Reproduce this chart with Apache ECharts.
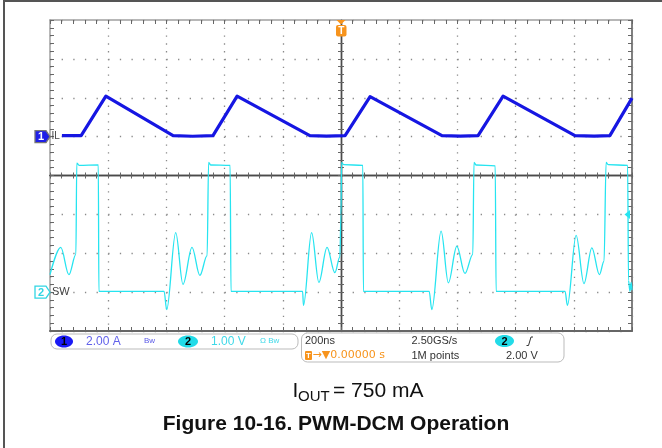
<!DOCTYPE html>
<html><head><meta charset="utf-8">
<script src="https://cdn.jsdelivr.net/npm/echarts@6/dist/echarts.min.js"></script>
<style>html,body{margin:0;padding:0;background:#fff}#c{width:662px;height:448px}</style>
</head><body><div id="c"></div>
<script>
// Time axis: 200 ns/div, 10 divisions, trigger at 0
const timeMin = -1000, timeMax = 1000, timeStep = 200;
// Channel 1 (IL): 2.00 A/div, 0 A one division above centre
const ilMin = -10, ilMax = 6, ilStep = 2;
// Channel 2 (SW): 1.00 V/div, 0 V three divisions below centre
const swMin = -1, swMax = 7, swStep = 1;
const trigLevel = 2.0;

// Inductor current (ns, A)
const ilTime = [-959, -893, -808, -577, -510, -440, -357, -107, -50, 14, 100, 347, 410, 471, 557, 804, 870, 924, 1000];
const ilAmps = [0.05, 0.05, 2.08, 0.05, 0.02, 0.05, 2.08, 0.05, 0.03, 0.05, 2.06, 0.05, 0.03, 0.05, 2.08, 0.05, 0.03, 0.05, 1.98];

// Switch node voltage (ns, V)
const swTime = [-1000, -963, -935, -911, -908, -900, -834, -832, -608, -599, -568, -543, -512, -485, -460, -455, -448, -381, -378,
  -132, -129, -101, -76, -48, -21, -4, 0, 2, 9, 75, 77, 303, 312, 344, 369, 398, 426, 453, 457, 464, 530, 533,
  770, 778, 808, 835, 862, 888, 904, 911, 918, 985, 988, 993, 997, 1000];
const swVolts = [0.45, 1.15, 0.45, 0.97, 3.32, 3.26, 3.27, 0.02, 0.02, -0.45, 1.53, 0.2, 1.15, 0.43, 0.94, 3.34, 3.27, 3.26, 0.02,
  0.02, -0.34, 1.53, 0.25, 1.15, 0.5, 0.9, 2.0, 3.34, 3.28, 3.26, 0.02, 0.02, -0.45, 1.57, 0.24, 1.18, 0.48, 0.97, 3.34, 3.27, 3.25, 0.02,
  0.02, -0.34, 1.46, 0.22, 1.14, 0.45, 0.8, 3.34, 3.28, 3.26, 0.3, 0.02, 0.25, 0.05];

const FONT = '"Liberation Sans", Arial, sans-serif';
const tickStyle = {color: '#666', width: 1};

function frameAxis(kind, pos, min, max, step, lineColor, lineWidth, split) {
  const a = {
    type: 'value', min, max, interval: step, position: pos,
    axisLine: {show: true, onZero: false, lineStyle: {color: lineColor, width: lineWidth}},
    axisTick: {show: true, inside: true, length: 4, lineStyle: tickStyle},
    minorTick: {show: true, splitNumber: 5, length: 4, lineStyle: tickStyle},
    axisLabel: {show: false},
    splitLine: {show: false},
    minorSplitLine: {show: false},
    axisPointer: {show: false}
  };
  if (split) {
    a.splitLine = {show: true, lineStyle: {color: '#8a8a8a', width: 1.3,
      type: kind === 'x' ? [1.3, 6.48] : [1.3, 10.34]}};
  }
  return a;
}
function centerAxis(min, max, step, zeroIdx, inside) {
  return {
    type: 'value', min, max, interval: step,
    axisLine: {show: true, onZero: true, onZeroAxisIndex: zeroIdx, lineStyle: {color: '#4a4a4a', width: 1.4}},
    axisTick: {show: true, inside, length: 3, lineStyle: tickStyle},
    minorTick: {show: true, splitNumber: 5, length: 3, lineStyle: tickStyle},
    axisLabel: {show: false}, splitLine: {show: false}, minorSplitLine: {show: false},
    axisPointer: {show: false}
  };
}

const chart = echarts.init(document.getElementById('c'), null, {renderer: 'canvas'});
const option = {
  animation: false,
  backgroundColor: '#fff',
  grid: {left: 50, top: 20, width: 582, height: 311, containLabel: false, outerBoundsMode: 'none'},
  xAxis: [
    frameAxis('x', 'bottom', timeMin, timeMax, timeStep, '#666', 2, true),
    frameAxis('x', 'top', timeMin, timeMax, timeStep, '#a0a0a0', 1.5, false),
    centerAxis(timeMin, timeMax, timeStep, 2, true),
    centerAxis(timeMin, timeMax, timeStep, 2, false)
  ],
  yAxis: [
    frameAxis('y', 'left', ilMin, ilMax, ilStep, '#a0a0a0', 1.5, true),
    frameAxis('y', 'right', swMin, swMax, swStep, '#808080', 2, false),
    centerAxis(-4, 4, 1, 0, true),
    centerAxis(-4, 4, 1, 0, false)
  ],
  series: [
    {type: 'line', name: 'IL', xAxisIndex: 0, yAxisIndex: 0, symbol: 'none', silent: true, z: 3,
     data: ilTime.map((t, i) => [t, ilAmps[i]]),
     lineStyle: {color: '#1616e2', width: 3.2, join: 'round'}},
    {type: 'line', name: 'SW', xAxisIndex: 0, yAxisIndex: 1, symbol: 'none', silent: true, z: 4,
     smooth: 0.35, smoothMonotone: 'x',
     data: swTime.map((t, i) => [t, swVolts[i]]),
     lineStyle: {color: '#26e4f0', width: 1.3}}
  ]
};
chart.setOption(option);

const p1 = chart.convertToPixel({xAxisIndex: 0, yAxisIndex: 0}, [timeMin, 0]);
const p2 = chart.convertToPixel({xAxisIndex: 0, yAxisIndex: 1}, [timeMin, 0]);
const pt = chart.convertToPixel({xAxisIndex: 0, yAxisIndex: 1}, [0, trigLevel]);
const pr = chart.convertToPixel({xAxisIndex: 0, yAxisIndex: 1}, [timeMax, trigLevel]);
const gx = p1[0], y1 = p1[1], y2 = p2[1], tx = pt[0], ty = pr[1], rx = pr[0];

function txt(x, y, s, size, color, family) {
  return {type: 'text', silent: true, z: 20,
    style: {x, y, text: s, fontSize: size, fontFamily: family || FONT, fill: color, textVerticalAlign: 'middle', textAlign: 'left'}};
}
function marker(y, fill, stroke, label, labelColor) {
  return [
    {type: 'polygon', z: 20, shape: {points: [[gx - 15, y - 6], [gx - 4, y - 6], [gx, y], [gx - 4, y + 6], [gx - 15, y + 6]]},
     style: {fill, stroke, lineWidth: 1.3}},
    {type: 'text', z: 21, style: {x: gx - 9, y: y + 0.5, text: label, fontSize: 11, fontWeight: 'bold', fontFamily: FONT,
      fill: labelColor, textAlign: 'center', textVerticalAlign: 'middle'}}
  ];
}
function badge(cx, cy, rxE, label, fill) {
  return [
    {type: 'ellipse', z: 20, shape: {cx, cy, rx: rxE, ry: 6}, style: {fill}},
    {type: 'text', z: 21, style: {x: cx, y: cy + 0.5, text: label, fontSize: 11, fontWeight: 'bold', fontFamily: FONT,
      fill: '#000', textAlign: 'center', textVerticalAlign: 'middle'}}
  ];
}

const graphics = [
  // outer figure frame
  {type: 'line', z: 1, shape: {x1: 4, y1: 0, x2: 4, y2: 448}, style: {stroke: '#555', lineWidth: 2}},
  {type: 'line', z: 1, shape: {x1: 4, y1: 1, x2: 662, y2: 1}, style: {stroke: '#555', lineWidth: 2}},
  // channel markers
  ...marker(y1, '#1f1fe8', '#777', '1', '#fff'),
  txt(gx + 1.5, y1, 'IL', 10, '#444'),
  ...marker(y2, '#fff', '#30d6e4', '2', '#30d6e4'),
  txt(gx + 2, y2, 'SW', 11, '#444'),
  // trigger position marker
  {type: 'polygon', z: 20, shape: {points: [[tx - 4.5, 20], [tx + 4.5, 20], [tx, 24.5]]}, style: {fill: '#f7941d'}},
  {type: 'rect', z: 20, shape: {x: tx - 5, y: 25, width: 10.5, height: 11.5, r: 2}, style: {fill: '#f7941d'}},
  {type: 'text', z: 21, style: {x: tx + 0.3, y: 31, text: 'T', fontSize: 10, fontWeight: 'bold', fontFamily: FONT, fill: '#fff', textAlign: 'center', textVerticalAlign: 'middle'}},
  // trigger level marker
  {type: 'polygon', z: 20, shape: {points: [[rx - 7.5, ty], [rx - 2, ty - 4.5], [rx - 2, ty + 4.5]]}, style: {fill: '#26e4f0'}},
  // status bar box 1
  {type: 'rect', z: 10, shape: {x: 51, y: 334, width: 247, height: 15, r: 6}, style: {fill: 'none', stroke: '#bbb', lineWidth: 1}},
  ...badge(64, 341.5, 9, '1', '#1a1af5'),
  txt(86, 341.5, '2.00 A', 12, '#6262ea'),
  txt(144, 340.5, 'Bw', 8, '#5a5ae8'),
  ...badge(188, 341.5, 10, '2', '#22dbe8'),
  txt(211, 341.5, '1.00 V', 12, '#3fd9e8'),
  txt(260, 340.5, 'Ω Bw', 8, '#3fd9e8'),
  // status bar box 2
  {type: 'rect', z: 10, shape: {x: 301.5, y: 333, width: 262.5, height: 29, r: 6}, style: {fill: 'none', stroke: '#bbb', lineWidth: 1}},
  txt(305, 341, '200ns', 11, '#333'),
  txt(411.5, 341, '2.50GS/s', 11, '#333'),
  ...badge(504.5, 341, 9.5, '2', '#22dbe8'),
  {type: 'polyline', z: 20, shape: {points: [[526.5, 345.5], [528.5, 345.5], [531, 337], [533, 337]]}, style: {stroke: '#333', lineWidth: 1, fill: 'none'}},
  {type: 'rect', z: 20, shape: {x: 305, y: 351, width: 7, height: 9, r: 1}, style: {fill: '#f7941d'}},
  {type: 'text', z: 21, style: {x: 308.5, y: 355.8, text: 'T', fontSize: 8, fontWeight: 'bold', fontFamily: FONT, fill: '#fff', textAlign: 'center', textVerticalAlign: 'middle'}},
  txt(312.5, 355.5, '→▼0.00000 s', 11, '#f7941d', '"DejaVu Sans", ' + FONT),
  txt(411.5, 355.5, '1M points', 11, '#333'),
  txt(506, 355.5, '2.00 V', 11, '#333'),
  // caption
  txt(292.5, 391, 'I', 21, '#111'),
  txt(298, 397, 'OUT', 15, '#111'),
  txt(333, 391, '= 750 mA', 21, '#111'),
  {type: 'text', z: 20, style: {x: 336, y: 424, text: 'Figure 10-16. PWM-DCM Operation', fontSize: 21, fontWeight: 'bold', fontFamily: FONT, fill: '#111', textAlign: 'center', textVerticalAlign: 'middle'}}
];
chart.setOption({graphic: graphics});
</script>
</body></html>
